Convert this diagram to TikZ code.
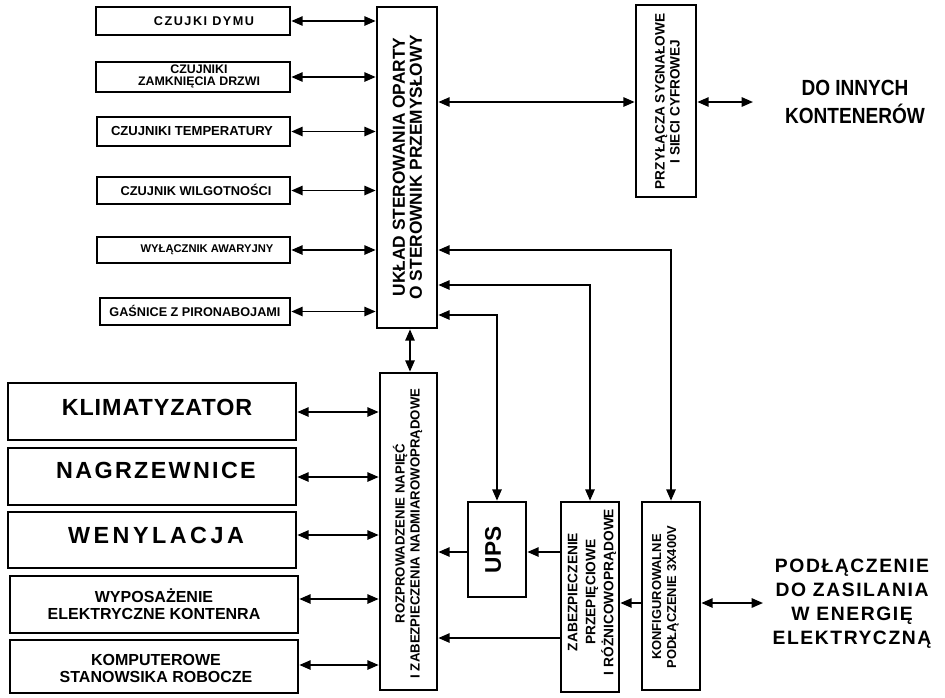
\documentclass[tikz,border=0pt]{standalone}
\usepackage{fontspec}
\setmainfont{Liberation Sans}
\usetikzlibrary{arrows.meta}
\newcommand\fsz[2]{\fontsize{#1}{#2}\selectfont}
\newcommand\lsp[1]{\addfontfeatures{LetterSpace=#1}}
\tikzset{
  box/.style={draw, line width=2pt, inner sep=0pt},
  sz/.style 2 args={minimum width=#1*0.75pt, minimum height=#2*0.75pt},
  Tri/.tip={Triangle[length=8.5pt,width=7pt]},
  ar/.style={line width=1.35pt, -Tri},
  biar/.style={line width=1.35pt, Tri-Tri},
  lbl/.style={align=center, inner sep=0pt},
  vlbl/.style={lbl, rotate=90},
}
\begin{document}
\begin{tikzpicture}[x=0.75pt,y=-0.75pt]
\useasboundingbox (0,0) rectangle (945,697);
% sensor boxes
\node[box,sz={194}{28}] (s1) at (193,21) {};
\node[box,sz={194}{30}] (s2) at (193,77) {};
\node[box,sz={193}{29}] (s3) at (193.5,131.5) {};
\node[box,sz={193}{27}] (s4) at (193.5,190.5) {};
\node[box,sz={193}{26}] (s5) at (193.5,250) {};
\node[box,sz={190}{27}] (s6) at (195,311.5) {};
% main boxes
\node[box,sz={60}{321}] (PLC) at (407,167.5) {};
\node[box,sz={60}{192}] (PRZ) at (666,101) {};
\node[box,sz={57}{317}] (ROZ) at (408.5,531.5) {};
\node[box,sz={58}{95}] (UPS) at (497,549.5) {};
\node[box,sz={58}{190}] (ZAB) at (590,597) {};
\node[box,sz={58}{188}] (KON) at (671,596) {};
% left load boxes
\node[box,sz={288}{57}] (L1) at (152,411.5) {};
\node[box,sz={288}{57}] (L2) at (152,476.5) {};
\node[box,sz={288}{56}] (L3) at (152,540) {};
\node[box,sz={288}{57}] (L4) at (154,604.5) {};
\node[box,sz={288}{53}] (L5) at (154,666.5) {};

% sensor texts
\node[lbl,font=\bfseries\fsz{9.5}{10}\lsp{12}] (t1) at (204,21) {CZUJKI DYMU};
\node[lbl,font=\bfseries\fsz{9.3}{9}] (t2) at (199,76) {CZUJNIKI\\ZAMKNIĘCIA DRZWI};
\node[lbl,font=\bfseries\fsz{9.8}{10}] (t3) at (192,130.5) {CZUJNIKI TEMPERATURY};
\node[lbl,font=\bfseries\fsz{9.6}{10}] (t4) at (196,190) {CZUJNIK WILGOTNOŚCI};
\node[lbl,font=\bfseries\fsz{8.4}{10}] (t5) at (207,250) {WYŁĄCZNIK AWARYJNY};
\node[lbl,font=\bfseries\fsz{9.5}{10}] (t6) at (195,310.5) {GAŚNICE Z PIRONABOJAMI};

% vertical texts
\node[vlbl,font=\bfseries\fsz{13}{12.75}] (PLCt) at (407.5,167) {UKŁAD STEROWANIA OPARTY\\O STEROWNIK PRZEMYSŁOWY};
\node[vlbl,font=\bfseries\fsz{10.2}{11.25}] (PRZt) at (667.5,101.5) {PRZYŁĄCZA SYGNAŁOWE\\I SIECI CYFROWEJ};
\node[vlbl,font=\bfseries\fsz{9.9}{11.25}] (ROZt) at (407.5,533.5) {ROZPROWADZENIE NAPIĘĆ\\I ZABEZPIECZENIA NADMIAROWOPRĄDOWE};
\node[vlbl,font=\bfseries\fsz{17}{17}] (UPSt) at (493,550) {UPS};
\node[vlbl,font=\bfseries\fsz{10.3}{13.5}] (ZABt) at (592,592) {ZABEZPIECZENIE\\PRZEPIĘCIOWE\\I RÓŻNICOWOPRĄDOWE};
\node[vlbl,font=\bfseries\fsz{9.7}{11.25}] (KONt) at (665.5,597) {KONFIGUROWALNE\\PODŁĄCZENIE 3X400V};

% left texts
\node[lbl,font=\bfseries\fsz{17.5}{18}\lsp{4}] (l1t) at (157,407) {KLIMATYZATOR};
\node[lbl,font=\bfseries\fsz{17.5}{18}\lsp{10}] (l2t) at (156,470) {NAGRZEWNICE};
\node[lbl,font=\bfseries\fsz{17.5}{18}\lsp{15}] (l3t) at (156,535) {WENYLACJA};
\node[lbl,font=\bfseries\fsz{12}{12.75}] (l4t) at (154,604.5) {WYPOSAŻENIE\\ELEKTRYCZNE KONTENRA};
\node[lbl,font=\bfseries\fsz{12}{12.75}] (l5t) at (156,668.5) {KOMPUTEROWE\\STANOWSIKA ROBOCZE};

% right texts
\coordinate (c1) at (753,102);
\coordinate (c2) at (763,603);
\node[lbl,font=\bfseries] (dst1) at (855,104) {\scalebox{1}[1.15]{\fsz{14.3}{18.2}\begin{tabular}{@{}c@{}}DO INNYCH\\KONTENERÓW\end{tabular}}};
\node[lbl,font=\bfseries\fsz{14.5}{18}\lsp{8}] (dst2) at (852,604) {PODŁĄCZENIE\\DO ZASILANIA\\W ENERGIĘ\\ELEKTRYCZNĄ};

% sensor connectors
\foreach \s in {s1,s2,s3,s4,s5,s6}
  \draw[biar] (\s.east) -- (\s.east -| PLC.west);
% PLC connections
\draw[biar] (PLC.east |- 0,102) -- (PRZ.west |- 0,102);
\draw[biar] (PRZ.east |- c1) -- (c1);
\draw[biar] (PLC.east |- 0,250) -| (KON.north);
\draw[biar] (PLC.east |- 0,285) -| (ZAB.north);
\draw[biar] (PLC.east |- 0,315) -| (UPS.north);
\draw[biar] (PLC.south -| 410,0) -- (ROZ.north -| 410,0);
% load connectors
\draw[biar] (L1.east |- 0,412) -- (ROZ.west |- 0,412);
\draw[biar] (L2.east |- 0,477) -- (ROZ.west |- 0,477);
\draw[biar] (L3.east |- 0,535) -- (ROZ.west |- 0,535);
\draw[biar] (L4.east |- 0,599) -- (ROZ.west |- 0,599);
\draw[biar] (L5.east |- 0,665) -- (ROZ.west |- 0,665);
% power path
\draw[ar] (ZAB.west |- 0,552) -- (UPS.east |- 0,552);
\draw[ar] (UPS.west |- 0,552) -- (ROZ.east |- 0,552);
\draw[ar] (KON.west |- 0,603) -- (ZAB.east |- 0,603);
\draw[ar] (ZAB.west |- 0,638) -- (ROZ.east |- 0,638);
\draw[biar] (KON.east |- c2) -- (c2);
\end{tikzpicture}
\end{document}
